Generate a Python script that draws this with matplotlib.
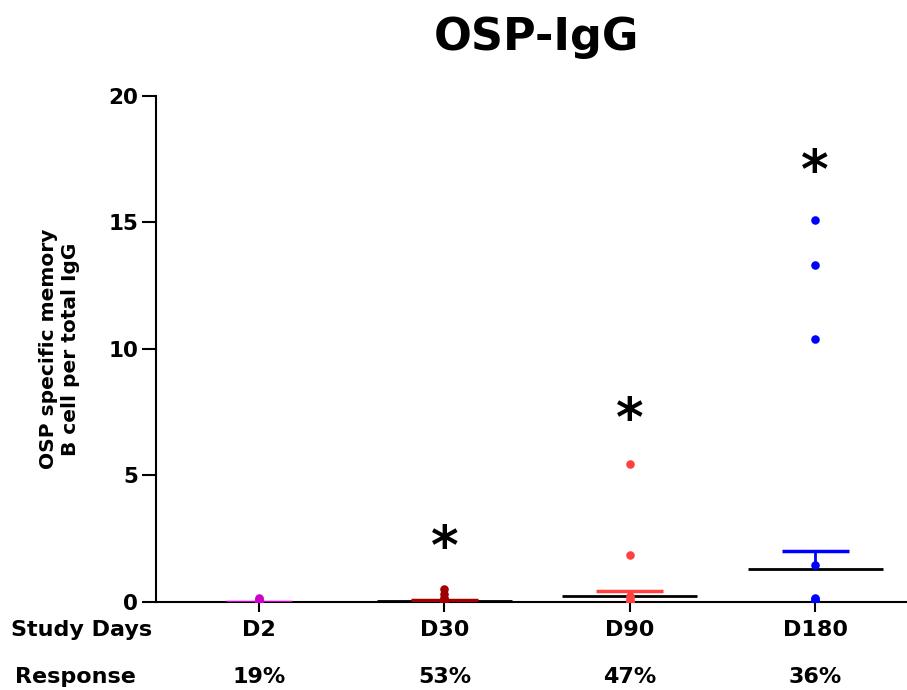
import matplotlib.pyplot as plt
import numpy as np

# ---- data ----
days = ["D2", "D30", "D90", "D180"]
response = ["19%", "53%", "47%", "36%"]
colors = ["#CC00CC", "#A00000", "#FF4040", "#0000FF"]

d2_vals = [0.0, 0.0, 0.02, 0.05, 0.1, 0.15]
d30_vals = [0.0, 0.02, 0.1, 0.15, 0.3, 0.5]
d90_vals = [0.0, 0.02, 0.05, 0.15, 0.25, 1.85, 5.45]
d180_vals = [0.0, 0.02, 0.05, 0.1, 0.15, 1.47, 10.4, 13.3, 15.1]
points = [d2_vals, d30_vals, d90_vals, d180_vals]

# black wide line and coloured short line per group
black_line = [0.0, 0.05, 0.24, 1.3]
color_line = [0.02, 0.08, 0.43, 2.0]
err_low = [0.0, 0.0, 0.0, 1.5]

star_y = [None, 2.45, 7.5, 17.3]

plt.rcParams["font.family"] = "DejaVu Sans"
plt.rcParams["font.weight"] = "bold"

fig = plt.figure(figsize=(9.07, 6.9), dpi=100)
ax = fig.add_axes([0.172, 0.1275, 0.828, 0.7335])

x = np.arange(len(days))
for i in range(len(days)):
    ax.hlines(black_line[i], x[i] - 0.365, x[i] + 0.365, color="black", lw=2, zorder=2)
    ax.hlines(color_line[i], x[i] - 0.18, x[i] + 0.18, color=colors[i], lw=2.5, zorder=3)
    if err_low[i] > 0:
        ax.vlines(x[i], err_low[i], color_line[i], color=colors[i], lw=2, zorder=3)
    ax.scatter(np.full(len(points[i]), x[i]), points[i], s=38, color=colors[i],
               zorder=4, linewidths=0)
    if star_y[i] is not None:
        # asterisk glyph sits high in its box, so shift it down a touch
        ax.text(x[i], star_y[i] - 0.35, "*", ha="center", va="center", fontsize=38,
                fontweight="bold", zorder=5)

ax.set_xlim(-0.555, 3.495)
ax.set_ylim(0, 20)
ax.set_yticks([0, 5, 10, 15, 20])
ax.set_xticks(x)
ax.set_xticklabels([])
ax.spines["top"].set_visible(False)
ax.spines["right"].set_visible(False)
ax.spines["left"].set_linewidth(1.5)
ax.spines["bottom"].set_linewidth(1.5)
ax.tick_params(axis="y", length=10, width=1.5, labelsize=15.5, pad=3)
ax.tick_params(axis="x", length=7, width=1.5)
for lab in ax.get_yticklabels():
    lab.set_fontweight("bold")

ax.set_ylabel("OSP specific memory\nB cell per total IgG", fontsize=14.5,
              fontweight="bold", labelpad=20)

fig.text(0.591, 0.945, "OSP-IgG", ha="center", va="center", fontsize=32,
         fontweight="bold")

# row labels under the axis
for i in range(len(days)):
    xf = fig.transFigure.inverted().transform(ax.transData.transform((x[i], 0)))[0]
    fig.text(xf, 1 - 630 / 690, days[i], ha="center", va="center", fontsize=16,
             fontweight="bold")
    fig.text(xf, 1 - 677 / 690, response[i], ha="center", va="center", fontsize=16,
             fontweight="bold")
fig.text(0.012, 1 - 630 / 690, "Study Days", ha="left", va="center", fontsize=16,
         fontweight="bold")
fig.text(0.016, 1 - 677 / 690, "Response", ha="left", va="center", fontsize=16,
         fontweight="bold")

fig.savefig("out.png", dpi=100)
